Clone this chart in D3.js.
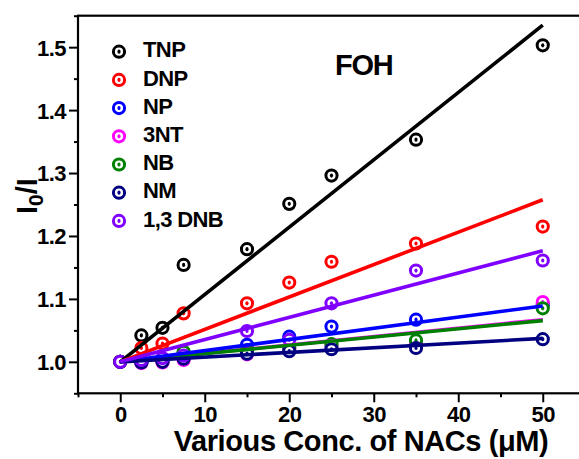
<!DOCTYPE html>
<html>
<head>
<meta charset="utf-8">
<script src="https://cdn.jsdelivr.net/npm/d3@7"></script>
<style>
  html, body { margin: 0; padding: 0; background: #fff; }
  svg { display: block; }
  text { font-family: "Liberation Sans", Arial, sans-serif; font-weight: bold; fill: #000; }
</style>
</head>
<body>
<svg id="chart" width="579" height="459"></svg>
<script>
// ---- data ----
const conc = [0, 2.5, 5, 7.5, 15, 20, 25, 35, 50];
const seriesNames = ["TNP", "DNP", "NP", "3NT", "NB", "NM", "1,3 DNB"];
const seriesColors = ["#000000", "#ff0000", "#0000ff", "#ff00ff", "#008000", "#000080", "#8000ff"];
const tnp   = [1.000, 1.042, 1.054, 1.154, 1.179, 1.251, 1.296, 1.353, 1.503];
const dnp   = [1.000, 1.022, 1.029, 1.077, 1.093, 1.126, 1.159, 1.188, 1.215];
const np    = [1.000, 0.999, 1.003, 1.014, 1.027, 1.040, 1.056, 1.067, 1.090];
const nt3   = [1.000, 0.998, 0.999, 1.003, 1.012, 1.020, 1.025, 1.030, 1.095];
const nb    = [1.000, 1.000, 1.004, 1.016, 1.018, 1.022, 1.028, 1.034, 1.085];
const nm    = [1.000, 0.999, 1.000, 1.005, 1.013, 1.017, 1.020, 1.022, 1.036];
const dnb13 = [1.000, 1.003, 1.006, 1.010, 1.049, 1.035, 1.093, 1.145, 1.161];
// linear fit (through I0/I = 1 at 0): slope per µM
const fitSlopes = [0.0107, 0.00515, 0.001776, 0.00134, 0.00131, 0.000745, 0.00353];
const fitIntercept = 1.0;
const fitRange = [0, 50];
const fitOrder = [0, 1, 3, 4, 2, 5, 6];
const xTicks = [0, 10, 20, 30, 40, 50];
const xMinorTicks = [-5, 5, 15, 25, 35, 45];
const yTicks = [1.0, 1.1, 1.2, 1.3, 1.4, 1.5];
const yMinorTicks = [0.95, 1.05, 1.15, 1.25, 1.35, 1.45, 1.55];
const allSeries = [tnp, dnp, np, nt3, nb, nm, dnb13];

// ---- layout ----
const svg = d3.select("#chart");
const pLeft = 78, pRight = 585, pTop = 15.7, pBottom = 393.3;
const x = d3.scaleLinear().domain([-5, 55]).range([pLeft, pRight]);
const y = d3.scaleLinear().domain([0.95, 1.55]).range([pBottom, pTop]);

// frame
svg.append("rect")
  .attr("x", pLeft).attr("y", pTop)
  .attr("width", pRight - pLeft).attr("height", pBottom - pTop)
  .attr("fill", "none").attr("stroke", "#000").attr("stroke-width", 2.2);

// axes
const xAxis = svg.append("g").attr("transform", `translate(0,${pBottom})`)
  .call(d3.axisBottom(x).tickValues(xTicks).tickSize(9).tickPadding(4).tickFormat(d3.format("d")));
const xMinor = svg.append("g").attr("transform", `translate(0,${pBottom})`)
  .call(d3.axisBottom(x).tickValues(xMinorTicks).tickSize(4).tickFormat(""));
const yAxis = svg.append("g").attr("transform", `translate(${pLeft},0)`)
  .call(d3.axisLeft(y).tickValues(yTicks).tickSize(9).tickPadding(3).tickFormat(d3.format(".1f")));
const yMinor = svg.append("g").attr("transform", `translate(${pLeft},0)`)
  .call(d3.axisLeft(y).tickValues(yMinorTicks).tickSize(4).tickFormat(""));
[xAxis, xMinor, yAxis, yMinor].forEach(g => {
  g.select(".domain").remove();
  g.selectAll(".tick line").attr("stroke", "#000").attr("stroke-width", 2);
  g.selectAll(".tick text")
    .style("font-family", '"Liberation Sans", Arial, sans-serif')
    .style("font-weight", "bold").style("font-size", "22px").attr("fill", "#000");
});
xAxis.selectAll(".tick text").style("letter-spacing", "-0.5px");
yAxis.selectAll(".tick text").attr("dy", "0.36em").style("letter-spacing", "-0.5px");

// clip
svg.append("clipPath").attr("id", "plotclip")
  .append("rect").attr("x", pLeft).attr("y", pTop).attr("width", pRight - pLeft).attr("height", pBottom - pTop);
const plot = svg.append("g").attr("clip-path", "url(#plotclip)");

function marker(g, cx, cy, color) {
  g.append("circle").attr("cx", cx).attr("cy", cy).attr("r", 5.6)
    .attr("fill", "#fff").attr("stroke", color).attr("stroke-width", 3);
  g.append("ellipse").attr("cx", cx).attr("cy", cy).attr("rx", 1.6).attr("ry", 2.1)
    .attr("fill", color);
}

// markers
allSeries.forEach((vals, i) => {
  const g = plot.append("g");
  vals.forEach((v, j) => marker(g, x(conc[j]), y(v), seriesColors[i]));
});

// fit lines
fitOrder.forEach(i => {
  plot.append("line")
    .attr("x1", x(fitRange[0])).attr("y1", y(fitIntercept + fitSlopes[i] * fitRange[0]))
    .attr("x2", x(fitRange[1])).attr("y2", y(fitIntercept + fitSlopes[i] * fitRange[1]))
    .attr("stroke", seriesColors[i]).attr("stroke-width", 3.6).attr("stroke-linecap", "butt");
});

// legend
const legendX = 119, legendY0 = 51.7, legendStep = 28.2;
seriesNames.forEach((name, i) => {
  const cy = legendY0 + i * legendStep;
  marker(svg, legendX, cy, seriesColors[i]);
  svg.append("text").attr("x", 143).attr("y", cy + 5.7)
    .style("font-size", "22px").style("letter-spacing", "-0.6px").text(name);
});

// annotation
svg.append("text").attr("x", 335).attr("y", 75)
  .style("font-size", "29px").style("letter-spacing", "-1.2px").text("FOH");

// axis titles
svg.append("text").attr("x", 361).attr("y", 451).attr("text-anchor", "middle")
  .style("font-size", "29px").style("letter-spacing", "-0.4px").text("Various Conc. of NACs (μM)");

const yt = svg.append("text").attr("transform", "translate(37,196) rotate(-90)")
  .attr("text-anchor", "middle").style("font-size", "29px");
yt.append("tspan").text("I");
yt.append("tspan").attr("dy", 6).style("font-size", "21px").text("0");
yt.append("tspan").attr("dy", -6).text("/I");
</script>
</body>
</html>
